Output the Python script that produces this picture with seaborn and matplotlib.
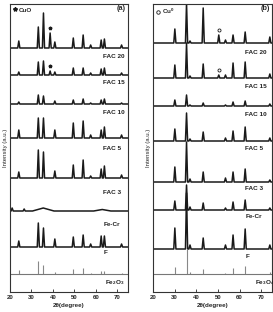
import numpy as np
import pandas as pd
import seaborn as sns
import matplotlib.pyplot as plt

# ---- data (peak heights in a.u., baseline = 0) ----
a_pos = [24.1, 33.2, 35.6, 38.7, 40.9, 49.5, 54.1, 57.6, 62.5, 64.0, 72.0]
a_samples = ['FAC 20', 'FAC 15', 'FAC 10', 'FAC 5', 'FAC 3', 'F']
a_heights = {
    'FAC 20': [7, 21, 35, 15, 6, 10, 13, 3, 8, 9, 3],
    'FAC 15': [3, 13, 14, 4, 3, 7, 7, 2, 6, 7, 2],
    'FAC 10': [2, 9, 8, 0, 3, 4, 5, 1, 4, 5, 1],
    'FAC 5': [8, 20, 20, 0, 8, 15, 17, 3, 8, 11, 3],
    'FAC 3': [6, 28, 26, 0, 7, 13, 18, 2, 9, 12, 3],
    'F': [6, 24, 19, 0, 8, 10, 12, 3, 11, 11, 3],
}
# Fe-Cr: two small sharp lines and two broad humps
a_fecr_pos = [21.0, 26.6, 35.5, 63.0]
a_fecr_h = [3, 2, 3, 1.5]
a_fecr_w = [0.5, 0.5, 5.0, 4.0]
fe2o3_h = [4, 13, 9, 0, 2, 5, 6, 1, 3, 3, 1.5]

b_pos = [30.1, 35.5, 37.1, 43.2, 50.4, 53.5, 57.0, 62.6, 74.0]
b_samples = ['FAC 20', 'FAC 15', 'FAC 10', 'FAC 5', 'FAC 3', 'Fe-Cr', 'F']
b_heights = {
    'FAC 20': [14, 40, 2, 35, 8, 3, 8, 11, 6],
    'FAC 15': [13, 35, 2, 14, 3, 3, 15, 16, 4],
    'FAC 10': [6, 11, 1, 3, 0, 1, 4, 5, 2],
    'FAC 5': [12, 28, 2, 9, 0, 3, 10, 14, 3],
    'FAC 3': [15, 40, 3, 10, 0, 4, 10, 13, 2],
    'Fe-Cr': [9, 25, 3, 7, 0, 2, 8, 10, 2],
    'F': [21, 56, 4, 11, 0, 4, 14, 20, 4],
}
fe3o4_h = [7, 25, 2, 5, 0, 1, 6, 8, 2]

cuo_marked = ['FAC 20', 'FAC 15']   # CuO peak at 38.7
cu_marked = ['FAC 20', 'FAC 15']    # Cu0 peak at 50.4

# ---- layout (vertical offsets of the stacked patterns) ----
a_offset = {'FAC 20': 244, 'FAC 15': 217, 'FAC 10': 188, 'FAC 5': 154,
            'FAC 3': 114, 'Fe-Cr': 81, 'F': 45}
a_label_y = {'FAC 20': 235, 'FAC 15': 209, 'FAC 10': 179, 'FAC 5': 144,
             'FAC 3': 100, 'Fe-Cr': 67, 'F': 39}
b_offset = {'FAC 20': 249, 'FAC 15': 214, 'FAC 10': 186, 'FAC 5': 151,
            'FAC 3': 110, 'Fe-Cr': 82, 'F': 43}
b_label_y = {'FAC 20': 240, 'FAC 15': 205, 'FAC 10': 178, 'FAC 5': 143,
             'FAC 3': 104, 'Fe-Cr': 75, 'F': 35}
ref_base = 18


def make_trace(pos, heights, widths=None, half=0.5):
    xs, ys = [20.0], [0.0]
    order = np.argsort(pos)
    for i in order:
        if heights[i] <= 0:
            continue
        w = half if widths is None else widths[i]
        xs += [pos[i] - w, pos[i], pos[i] + w]
        ys += [0.0, heights[i], 0.0]
    xs.append(75.0)
    ys.append(0.0)
    return pd.DataFrame({'two_theta': xs, 'intensity': ys})


sns.set_theme(style='ticks')
plt.rcParams['font.family'] = ['Liberation Sans', 'DejaVu Sans']
plt.rcParams['mathtext.default'] = 'regular'

fig = plt.figure(figsize=(2.73, 3.12), dpi=100)
ax_a = fig.add_axes([10/273, 20/312, 118/273, 288/312])
ax_b = fig.add_axes([153/273, 20/312, 119/273, 288/312])

lab_font = dict(fontsize=4.6, fontweight='bold', color='#222222')
line_kw = dict(color='#1a1a1a', lw=1.1, sort=False, estimator=None)

# panel (a)
for s in a_samples:
    df = make_trace(a_pos, a_heights[s])
    df['intensity'] += a_offset[s]
    sns.lineplot(data=df, x='two_theta', y='intensity', ax=ax_a, **line_kw)
df = make_trace(a_fecr_pos, a_fecr_h, a_fecr_w)
df['intensity'] += a_offset['Fe-Cr']
sns.lineplot(data=df, x='two_theta', y='intensity', ax=ax_a, **line_kw)
for s in a_samples + ['Fe-Cr']:
    ax_a.text(63.5, a_label_y[s], s, ha='left', va='center', **lab_font)
ax_a.vlines(a_pos, ref_base, [ref_base + h for h in fe2o3_h], color='#888888', lw=0.8)
ax_a.axhline(ref_base, color='#777777', lw=0.8)
ax_a.text(64.5, 9, 'Fe$_2$O$_3$', ha='left', va='center', **lab_font)
for s in cuo_marked:
    ax_a.plot(38.7, a_offset[s] + a_heights[s][3] + 5, marker='*', ms=2.5,
              color='#1a1a1a', ls='none')
ax_a.plot([], [], marker='*', ms=3, color='#1a1a1a', ls='none', label='CuO')
ax_a.text(74, 283, '(a)', ha='right', va='center', fontsize=5.2, fontweight='bold')

# panel (b)
for s in b_samples:
    df = make_trace(b_pos, b_heights[s])
    df['intensity'] += b_offset[s]
    sns.lineplot(data=df, x='two_theta', y='intensity', ax=ax_b, **line_kw)
    ax_b.text(62.6, b_label_y[s], s, ha='left', va='center', **lab_font)
ax_b.vlines(b_pos, ref_base, [ref_base + h for h in fe3o4_h], color='#888888', lw=0.8)
ax_b.axhline(ref_base, color='#777777', lw=0.8)
ax_b.text(67.0, 9, 'Fe$_3$O$_4$', ha='left', va='center', **lab_font)
for s in cu_marked:
    ax_b.plot(50.4, b_offset[s] + b_heights[s][4] + 5, marker='o', ms=2.2, mfc='none',
              mew=0.6, color='#1a1a1a', ls='none')
ax_b.plot([], [], marker='o', ms=2.5, mfc='none', mew=0.6, color='#1a1a1a',
          ls='none', label='Cu$^0$')
ax_b.text(74, 283, '(b)', ha='right', va='center', fontsize=5.2, fontweight='bold')

for ax in (ax_a, ax_b):
    ax.set_xlim(20, 75)
    ax.set_ylim(0, 288)
    ax.set_xticks([20, 30, 40, 50, 60, 70])
    ax.set_yticks([])
    ax.tick_params(axis='x', direction='in', length=2, width=0.6, pad=2,
                   labelsize=4.3)
    for t in ax.get_xticklabels():
        t.set_fontweight('bold')
    ax.set_xlabel('2θ(degree)', fontsize=4.5, fontweight='bold', labelpad=2)
    ax.set_ylabel('Intensity (a.u.)', fontsize=4.3, labelpad=1.5)
    for sp in ax.spines.values():
        sp.set_linewidth(0.8)
        sp.set_color('#333333')
    leg = ax.legend(loc='upper left', frameon=False, fontsize=4.5, handlelength=0.6,
                    handletextpad=0.3, borderaxespad=0.3, borderpad=0.2)
    for t in leg.get_texts():
        t.set_fontweight('bold')

fig.savefig('out.png', dpi=100)
